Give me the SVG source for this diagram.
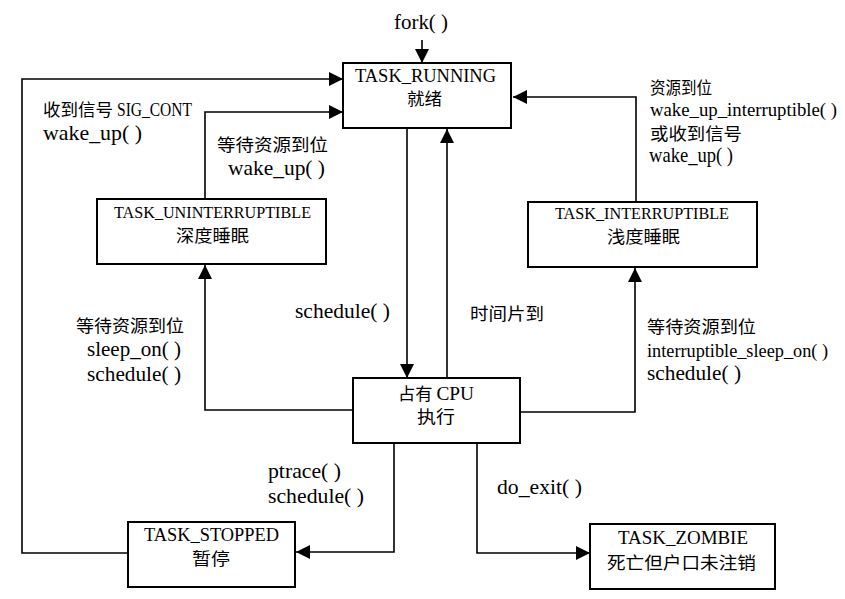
<svg xmlns="http://www.w3.org/2000/svg" width="845" height="599" viewBox="0 0 845 599">
<style>
.box{fill:#fff;stroke:#000;stroke-width:2}
.ln{fill:none;stroke:#000;stroke-width:1.6;marker-end:url(#ah)}
text{font-family:"Liberation Serif","Noto Sans CJK SC",serif;fill:#000}
.lat{font-size:21px}
.lat19{font-size:19px}
.cjk{font-size:17px;font-family:"Noto Sans CJK SC","Liberation Serif",sans-serif}
.bx{font-size:18px}
.mono{font-size:16px}
</style>
<defs>
<marker id="ah" markerUnits="userSpaceOnUse" markerWidth="14" markerHeight="14" viewBox="0 0 14 14" refX="14" refY="7" orient="auto">
<path d="M0,0 L14,7 L0,14 z" fill="#000"/>
</marker>
</defs>
<rect width="845" height="599" fill="#fff"/>
<g id="connectors">
<path class="ln" d="M422,40 V63"/>
<path class="ln" d="M128,553 H22 V79 H343"/>
<path class="ln" d="M205,199 V112 H343"/>
<path class="ln" d="M636,202 V97 H513"/>
<path class="ln" d="M407,128 V378"/>
<path class="ln" d="M447,378 V129"/>
<path class="ln" d="M353,410 H205 V265"/>
<path class="ln" d="M520,412 H635 V268"/>
<path class="ln" d="M394,443 V552 H296"/>
<path class="ln" d="M477,443 V553 H590"/>
</g>
<g id="labels">
<text class="lat" x="394" y="29" textLength="54" lengthAdjust="spacingAndGlyphs">fork( )</text>
<text class="cjk" x="43" y="116" textLength="70" lengthAdjust="spacingAndGlyphs">收到信号</text>
<text class="lat19" x="117" y="116" textLength="75" lengthAdjust="spacingAndGlyphs">SIG_CONT</text>
<text class="lat" x="43" y="140" textLength="99" lengthAdjust="spacingAndGlyphs">wake_up( )</text>
<text class="cjk" x="217" y="151" textLength="111" lengthAdjust="spacingAndGlyphs">等待资源到位</text>
<text class="lat" x="228" y="175" textLength="97" lengthAdjust="spacingAndGlyphs">wake_up( )</text>
<text class="cjk" x="650" y="94" textLength="62" lengthAdjust="spacingAndGlyphs">资源到位</text>
<text class="lat19" x="650" y="116" textLength="187" lengthAdjust="spacingAndGlyphs">wake_up_interruptible( )</text>
<text class="cjk" x="650" y="140" textLength="92" lengthAdjust="spacingAndGlyphs">或收到信号</text>
<text class="lat" x="649" y="162" textLength="84" lengthAdjust="spacingAndGlyphs">wake_up( )</text>
<text class="lat" x="295" y="318" textLength="95" lengthAdjust="spacingAndGlyphs">schedule( )</text>
<text class="cjk" x="470" y="320" textLength="74" lengthAdjust="spacingAndGlyphs">时间片到</text>
<text class="cjk" x="76" y="332" textLength="108" lengthAdjust="spacingAndGlyphs">等待资源到位</text>
<text class="lat" x="87" y="356" textLength="94" lengthAdjust="spacingAndGlyphs">sleep_on( )</text>
<text class="lat" x="87" y="381" textLength="94" lengthAdjust="spacingAndGlyphs">schedule( )</text>
<text class="cjk" x="647" y="333" textLength="109" lengthAdjust="spacingAndGlyphs">等待资源到位</text>
<text class="lat19" x="647" y="357" textLength="181" lengthAdjust="spacingAndGlyphs">interruptible_sleep_on( )</text>
<text class="lat" x="647" y="380" textLength="94" lengthAdjust="spacingAndGlyphs">schedule( )</text>
<text class="lat" x="268" y="478" textLength="73" lengthAdjust="spacingAndGlyphs">ptrace( )</text>
<text class="lat" x="268" y="503" textLength="96" lengthAdjust="spacingAndGlyphs">schedule( )</text>
<text class="lat" x="497" y="494" textLength="85" lengthAdjust="spacingAndGlyphs">do_exit( )</text>
</g>
<g id="node-running">
<rect class="box" x="343" y="63" width="168" height="65"/>
<text class="bx" x="355" y="82" textLength="141" lengthAdjust="spacingAndGlyphs">TASK_RUNNING</text>
<text class="cjk" x="407" y="105" textLength="35" lengthAdjust="spacingAndGlyphs">就绪</text>
</g>
<g id="node-uninterruptible">
<rect class="box" x="97" y="199" width="229" height="65"/>
<text class="mono" x="114" y="218" textLength="197" lengthAdjust="spacingAndGlyphs">TASK_UNINTERRUPTIBLE</text>
<text class="cjk" x="176" y="242" textLength="73" lengthAdjust="spacingAndGlyphs">深度睡眠</text>
</g>
<g id="node-interruptible">
<rect class="box" x="528" y="202" width="229" height="65"/>
<text class="mono" x="555" y="219" textLength="174" lengthAdjust="spacingAndGlyphs">TASK_INTERRUPTIBLE</text>
<text class="cjk" x="607" y="243" textLength="73" lengthAdjust="spacingAndGlyphs">浅度睡眠</text>
</g>
<g id="node-cpu">
<rect class="box" x="353" y="378" width="167" height="65"/>
<text class="cjk" x="398" y="400" textLength="76" lengthAdjust="spacingAndGlyphs">占有 <tspan font-family="Liberation Serif" font-size="19">CPU</tspan></text>
<text class="cjk" x="417" y="423" textLength="38" lengthAdjust="spacingAndGlyphs">执行</text>
</g>
<g id="node-stopped">
<rect class="box" x="128" y="522" width="167" height="65"/>
<text class="bx" x="144" y="541" textLength="135" lengthAdjust="spacingAndGlyphs">TASK_STOPPED</text>
<text class="cjk" x="192" y="565" textLength="38" lengthAdjust="spacingAndGlyphs">暂停</text>
</g>
<g id="node-zombie">
<rect class="box" x="590" y="524" width="185" height="65"/>
<text class="bx" x="618" y="544" textLength="130" lengthAdjust="spacingAndGlyphs">TASK_ZOMBIE</text>
<text class="cjk" x="607" y="569" textLength="149" lengthAdjust="spacingAndGlyphs">死亡但户口未注销</text>
</g>
</svg>
